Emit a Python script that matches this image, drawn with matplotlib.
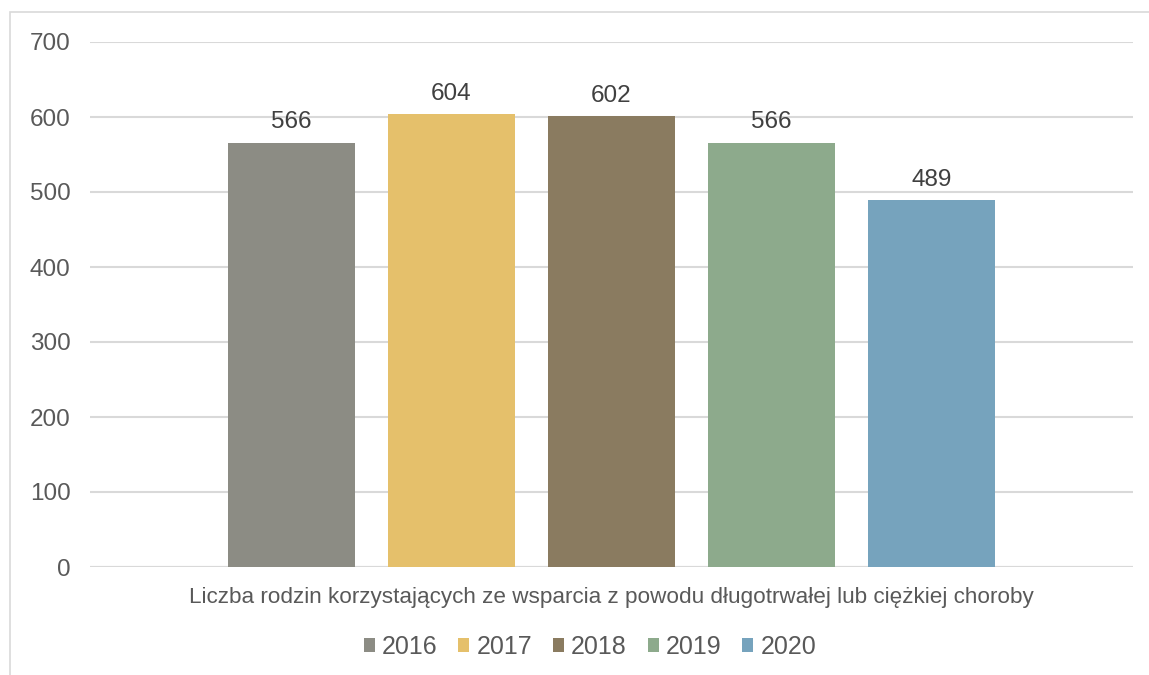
import matplotlib
matplotlib.use("Agg")
import matplotlib.pyplot as plt
from matplotlib.patches import Rectangle, Patch

years = ["2016", "2017", "2018", "2019", "2020"]
values = [566, 604, 602, 566, 489]
colors = ["#8C8C84", "#E5C06B", "#8A7B60", "#8DAA8C", "#76A3BD"]
category = "Liczba rodzin korzystających ze wsparcia z powodu długotrwałej lub ciężkiej choroby"

W, H = 1149, 675
fig = plt.figure(figsize=(W / 100, H / 100), dpi=100)
ax = fig.add_axes([90 / W, 108 / H, (1133 - 90) / W, (567 - 42) / H])

TXT = "#595959"
GRID = "#D9D9D9"
sans = ["Liberation Sans", "DejaVu Sans"]

# chart border (cut off at the right and bottom edge of the image)
fig.patches.append(Rectangle((10 / W, -0.1), 1.2, (H - 12) / H + 0.1,
                             transform=fig.transFigure, fill=False,
                             edgecolor=GRID, linewidth=1.2))

pos = list(range(len(years)))
bw = 127 / 160
ax.bar(pos, values, width=bw, color=colors, zorder=3)
for x, v in zip(pos, values):
    ax.text(x, v + 12, str(v), ha="center", va="bottom", fontsize=17.5,
            color="#404040", family=sans)

ax.set_xlim(2 - 1043 / 320, 2 + 1043 / 320)
ax.set_ylim(0, 700)
ax.set_yticks(range(0, 701, 100))
ax.set_xticks([])
ax.yaxis.grid(True, color=GRID, linewidth=1.5, zorder=0)
for s in ax.spines.values():
    s.set_visible(False)
ax.axhline(0, color=GRID, linewidth=1.5, zorder=1)
ax.tick_params(axis="y", length=0, pad=14, labelsize=17.5, labelcolor=TXT)
for lab in ax.get_yticklabels():
    lab.set_family(sans)

fig.text(611 / W, 1 - 598 / H, category, ha="center", va="center",
         fontsize=16.2, color=TXT, family=sans)

handles = [Patch(facecolor=c, label=y) for c, y in zip(colors, years)]
fig.legend(handles=handles, loc="center", bbox_to_anchor=(590 / W, 1 - 647 / H),
           ncol=5, frameon=False, handlelength=0.44, handleheight=0.44,
           handletextpad=0.28, columnspacing=0.84,
           prop={"family": sans, "size": 18}, labelcolor=TXT)

fig.savefig("out.png", dpi=100)
